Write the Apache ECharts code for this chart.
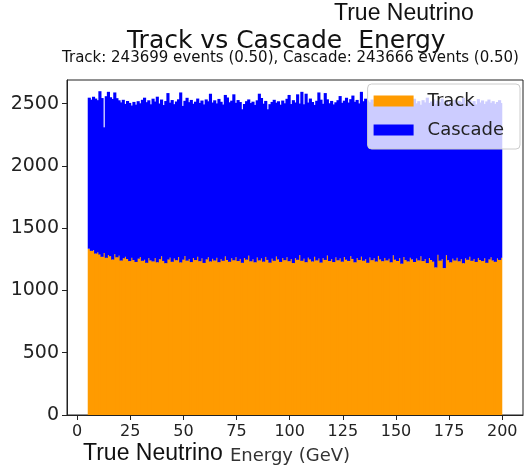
<!DOCTYPE html>
<html>
<head>
<meta charset="utf-8">
<script src="https://cdn.jsdelivr.net/npm/echarts@6/dist/echarts.min.js"></script>
<style>html,body{margin:0;padding:0;background:#fff}#c{width:530px;height:470px}</style>
</head>
<body>
<div id="c"></div>
<script>
// Histogram bins: 1 GeV wide, lower edges 5..199
const binStart = 5;
const binWidth = 1;
// Track counts per bin (orange, bottom of stack)
const track = [
1335,1318,1322,1296,1305,1288,1270,1301,1262,1284,
1275,1248,1291,1266,1279,1240,1258,1270,1252,1236,
1262,1244,1229,1255,1268,1238,1246,1222,1259,1241,
1233,1260,1226,1251,1274,1237,1219,1248,1263,1230,
1256,1242,1268,1225,1247,1276,1239,1252,1228,1261,
1244,1270,1235,1257,1221,1249,1266,1232,1254,1240,
1262,1227,1251,1238,1273,1245,1230,1258,1242,1267,
1236,1253,1222,1261,1247,1279,1234,1250,1226,1264,
1241,1257,1231,1269,1245,1223,1255,1238,1272,1248,
1229,1260,1243,1266,1235,1252,1220,1258,1246,1283,
1238,1255,1227,1263,1249,1233,1270,1241,1256,1224,
1259,1245,1280,1236,1251,1228,1265,1242,1257,1231,
1268,1247,1237,1275,1253,1226,1260,1244,1271,1239,
1250,1222,1264,1243,1258,1232,1277,1248,1235,1261,
1241,1254,1226,1282,1247,1237,1259,1215,1268,1244,
1233,1262,1249,1228,1256,1241,1274,1236,1252,1220,
1260,1245,1231,1185,1286,1239,1250,1180,1283,1243,
1226,1255,1240,1262,1234,1251,1218,1257,1246,1270,
1238,1253,1229,1261,1244,1236,1258,1222,1249,1266,
1241,1230,1256,1245,1262
];
// Top of the stack (Track + Cascade) per bin
const stackTop = [
2548,2532,2556,2541,2528,2600,2545,2310,2560,2595,
2552,2538,2590,2544,2527,2510,2531,2498,2522,2506,
2485,2514,2492,2520,2503,2531,2548,2512,2527,2495,
2540,2517,2556,2502,2533,2489,2521,2585,2508,2529,
2496,2518,2535,2590,2482,2523,2547,2512,2530,2499,
2516,2541,2506,2525,2494,2534,2519,2580,2509,2527,
2502,2538,2515,2493,2570,2550,2511,2524,2575,2507,
2529,2513,2455,2498,2520,2534,2505,2516,2490,2527,
2580,2546,2500,2522,2455,2496,2514,2531,2508,2519,
2492,2525,2503,2539,2570,2497,2528,2510,2575,2501,
2595,2495,2580,2509,2541,2513,2490,2523,2590,2532,
2499,2585,2535,2504,2522,2494,2511,2528,2561,2507,
2524,2548,2509,2536,2565,2515,2530,2502,2595,2519,
2540,2526,2511,2533,2498,2521,2505,2538,2514,2495,
2529,2507,2518,2544,2501,2485,2523,2509,2532,2515,
2497,2526,2512,2539,2503,2520,2491,2528,2510,2548,
2506,2518,2535,2499,2524,2511,2540,2502,2526,2494,
2519,2508,2531,2497,2523,2512,2545,2500,2516,2529,
2503,2521,2495,2537,2510,2526,2498,2518,2533,2507,
2520,2499,2514,2528,2505
];
const xTicks = [0,25,50,75,100,125,150,175,200];
const yTicks = [0,500,1000,1500,2000,2500];
const seriesNames = ['Track','Cascade'];
const colors = ['#ff9b00','#0000ff'];

const trackData = track.map((v,i)=>[binStart+i*binWidth, binStart+(i+1)*binWidth, 0, v]);
const cascadeData = stackTop.map((v,i)=>[binStart+i*binWidth, binStart+(i+1)*binWidth, track[i], v]);
const lastIndex = track.length - 1;

function renderBin(params, api){
  const p0 = api.coord([api.value(0), api.value(3)]);
  const p1 = api.coord([api.value(1), api.value(2)]);
  const c = api.visual('color');
  const extra = params.dataIndex < lastIndex ? 1 : 0; // overlap next bin to avoid seams
  return {type:'rect', shape:{x:p0[0], y:p0[1], width:p1[0]-p0[0]+extra, height:p1[1]-p0[1]},
          style:{fill:c}};
}

const chart = echarts.init(document.getElementById('c'), null, {renderer:'canvas'});
const fontD = 'DejaVu Sans';
chart.setOption({
  animation:false,
  backgroundColor:'#fff',
  title:[
    {text:'True Neutrino', left:334, top:2, padding:0, textStyle:{fontFamily:'Liberation Sans', fontWeight:'normal', fontSize:23, color:'#111'}},
    {text:'Track vs Cascade  Energy', left:127, top:29, padding:0, textStyle:{fontFamily:fontD, fontWeight:'normal', fontSize:25, color:'#111'}},
    {text:'Track: 243699 events (0.50), Cascade: 243666 events (0.50)', left:62, top:51, padding:0, textStyle:{fontFamily:fontD, fontWeight:'normal', fontSize:15, color:'#111'}},
    {text:'True Neutrino', left:83, top:442, padding:0, textStyle:{fontFamily:'Liberation Sans', fontWeight:'normal', fontSize:23, color:'#111'}},
    {text:'Energy (GeV)', left:230, top:447, padding:0, textStyle:{fontFamily:fontD, fontWeight:'normal', fontSize:18, color:'#333'}}
  ],
  legend:{
    data:seriesNames, orient:'vertical', right:10, top:84, icon:'rect', itemWidth:40, itemHeight:11,
    itemGap:9, padding:[7,16,9,6], backgroundColor:'rgba(255,255,255,0.8)', borderColor:'#ccc', borderWidth:1, borderRadius:4,
    selectedMode:false,
    textStyle:{fontFamily:fontD, fontSize:18, color:'#222', padding:[0,0,0,9], lineHeight:20}
  },
  grid:{left:67, right:7, top:80, bottom:55, show:true, borderColor:'#222', borderWidth:1, backgroundColor:'transparent'},
  xAxis:{type:'value', min:-4.75, max:209.75,
    axisLine:{show:true, onZero:false, lineStyle:{color:'#222'}},
    axisTick:{show:true, customValues:xTicks, length:5, lineStyle:{color:'#222'}},
    axisLabel:{customValues:xTicks, fontFamily:fontD, fontSize:16, color:'#222', margin:9},
    splitLine:{show:false}},
  yAxis:{type:'value', min:0, max:2690,
    axisLine:{show:true, onZero:false, lineStyle:{color:'#222'}},
    axisTick:{show:true, customValues:yTicks, length:5, lineStyle:{color:'#222'}},
    axisLabel:{customValues:yTicks, fontFamily:fontD, fontSize:19, color:'#222', margin:8, formatter:v=>String(v)},
    splitLine:{show:false}},
  series:[
    {name:seriesNames[0], type:'custom', renderItem:renderBin, itemStyle:{color:colors[0]}, encode:{x:[0,1], y:[2,3]}, data:trackData},
    {name:seriesNames[1], type:'custom', renderItem:renderBin, itemStyle:{color:colors[1]}, encode:{x:[0,1], y:[2,3]}, data:cascadeData}
  ]
});
</script>
</body>
</html>
